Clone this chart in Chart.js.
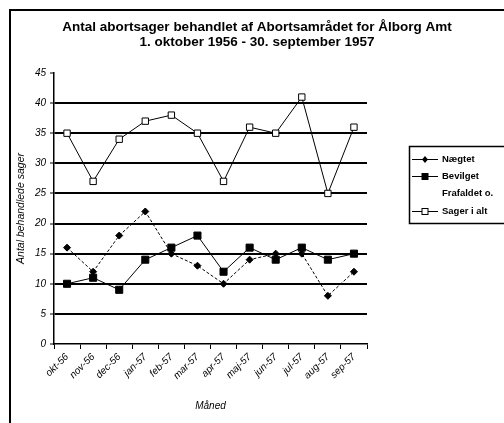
<!DOCTYPE html>
<html><head><meta charset="utf-8">
<script src="https://cdn.jsdelivr.net/npm/chart.js@4/dist/chart.umd.min.js"></script>
<style>html,body{margin:0;padding:0;background:#fff}#wrap{width:504px;height:423px;position:relative}</style>
</head><body><div id="wrap"><canvas id="c"></canvas></div>
<script>
const months = ['okt-56','nov-56','dec-56','jan-57','feb-57','mar-57','apr-57','maj-57','jun-57','jul-57','aug-57','sep-57'];
const naegtet = [16,12,18,22,15,13,10,14,15,15,8,12];
const bevilget = [10,11,9,14,16,18,12,16,14,16,14,15];
const frafaldet = [];
const sagerIAlt = [35,27,34,37,38,35,27,36,35,41,25,36];
const seriesNames = ['Nægtet','Bevilget','Frafaldet o.','Sager i alt'];
const titleLines = ['Antal abortsager behandlet af Abortsamrådet for Ålborg Amt','1. oktober 1956 - 30. september 1957'];
const yMin = 0, yMax = 45, yStep = 5;
const FONT = "'Liberation Sans', Arial, sans-serif";

const framePlugin = {
  id: 'frame',
  beforeDraw(chart) {
    const c = chart.ctx;
    c.save();
    c.fillStyle = '#fff';
    c.fillRect(0, 0, chart.width, chart.height);
    c.strokeStyle = '#000';
    c.lineWidth = 2;
    c.strokeRect(10, 10, 600, 600);
    c.restore();
  }
};

const legendPlugin = {
  id: 'customLegend',
  afterDraw(chart) {
    const c = chart.ctx;
    c.save();
    c.strokeStyle = '#000';
    c.lineWidth = 1.5;
    c.strokeRect(409.5, 146.5, 130, 77);
    const ys = [159, 176, 193, 211];
    c.font = 'bold 9.5px ' + FONT;
    c.textBaseline = 'middle';
    c.fillStyle = '#000';
    chart.data.datasets.forEach((ds, i) => {
      const y = ys[i];
      if (ds.showLine !== false) {
        c.lineWidth = 1;
        c.beginPath();
        c.moveTo(412, y + 0.5);
        c.lineTo(438, y + 0.5);
        c.stroke();
        const st = ds.pointStyle;
        c.fillStyle = ds.pointBackgroundColor;
        if (st === 'rectRot') {
          c.beginPath();
          c.moveTo(425, y - 3); c.lineTo(428, y + 0.5); c.lineTo(425, y + 4); c.lineTo(422, y + 0.5);
          c.closePath(); c.fill();
        } else if (st === 'rect') {
          c.fillRect(422, y - 2.5, 6, 6);
          c.strokeRect(422, y - 2.5, 6, 6);
        }
      }
      c.fillStyle = '#000';
      c.fillText(ds.label, 442, y + 0.5);
    });
    c.restore();
  }
};

new Chart(document.getElementById('c'), {
  type: 'line',
  data: {
    labels: months,
    datasets: [
      { label: seriesNames[0], data: naegtet, borderColor: '#000', borderWidth: 1, borderDash: [3, 2],
        pointStyle: 'rectRot', pointRadius: 3.5, pointBackgroundColor: '#000', pointBorderColor: '#000', pointBorderWidth: 1 },
      { label: seriesNames[1], data: bevilget, borderColor: '#000', borderWidth: 1,
        pointStyle: 'rect', pointRadius: 5, pointBackgroundColor: '#000', pointBorderColor: '#000', pointBorderWidth: 1 },
      { label: seriesNames[2], data: frafaldet, showLine: false, pointRadius: 0, borderColor: 'rgba(0,0,0,0)' },
      { label: seriesNames[3], data: sagerIAlt, borderColor: '#000', borderWidth: 1,
        pointStyle: 'rect', pointRadius: 4.5, pointBackgroundColor: '#fff', pointBorderColor: '#000', pointBorderWidth: 1 }
    ]
  },
  options: {
    responsive: true,
    maintainAspectRatio: false,
    animation: false,
    layout: { padding: { left: 10, top: 10, right: 0, bottom: 0 } },
    plugins: {
      legend: { display: false },
      tooltip: { enabled: false },
      title: {
        display: true, text: titleLines, color: '#000',
        font: { family: FONT, size: 13.5, weight: 'bold', lineHeight: 1.11 },
        padding: { top: 10, bottom: 23 }
      }
    },
    scales: {
      x: {
        offset: true,
        grid: { drawOnChartArea: false, drawTicks: true, tickLength: 5, color: '#000', lineWidth: 1, offset: true },
        border: { color: '#000', width: 1.5 },
        ticks: { autoSkip: false, minRotation: 45, maxRotation: 45, padding: 2, color: '#000',
          font: { family: FONT, size: 10, style: 'italic' } },
        title: { display: true, text: 'Måned', color: '#000', font: { family: FONT, size: 10, style: 'italic' }, padding: { top: 0, bottom: 11 } },
        afterFit(s) { s.height = 79; }
      },
      y: {
        min: yMin, max: yMax,
        grid: {
          color: (ctx) => (ctx.tick && ctx.tick.value > yMin && ctx.tick.value < yMax) ? '#000' : 'rgba(0,0,0,0)',
          lineWidth: 2, tickColor: '#000', tickWidth: 1, tickLength: 4
        },
        border: { color: '#000', width: 1.5 },
        ticks: { stepSize: yStep, padding: 4, color: '#000', font: { family: FONT, size: 10, style: 'italic' } },
        title: { display: true, text: 'Antal behandlede sager', color: '#000', font: { family: FONT, size: 10.5, style: 'italic' }, padding: { top: 5, bottom: 0 } },
        afterFit(s) { s.width = 44; }
      },
      yR: {
        position: 'right', display: true,
        grid: { display: false }, border: { display: false }, ticks: { display: false },
        afterFit(s) { s.width = 137; }
      }
    }
  },
  plugins: [framePlugin, legendPlugin]
});
</script>
</body></html>
